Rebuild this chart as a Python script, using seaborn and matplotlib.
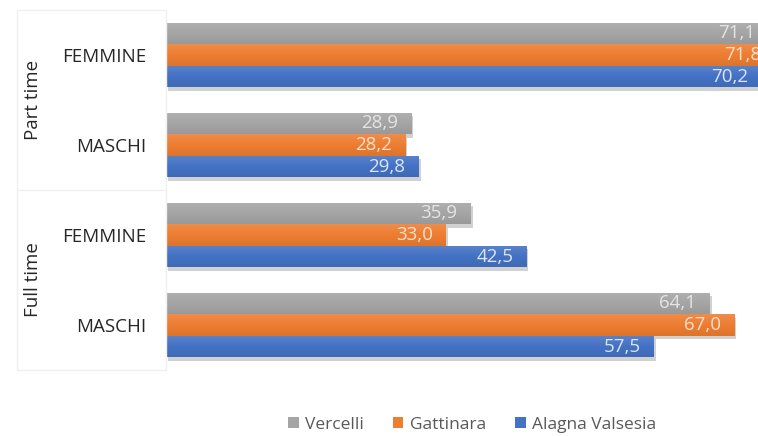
import numpy as np
import pandas as pd
import matplotlib
matplotlib.use("Agg")
import matplotlib.pyplot as plt
import matplotlib.patheffects as pe
from matplotlib.colors import LinearSegmentedColormap, to_rgb
import seaborn as sns

# data
gruppi = ["Part time", "Part time", "Full time", "Full time"]
sessi = ["FEMMINE", "MASCHI", "FEMMINE", "MASCHI"]
comuni = ["Vercelli", "Gattinara", "Alagna Valsesia"]
vercelli = [71.1, 28.9, 35.9, 64.1]
gattinara = [71.8, 28.2, 33.0, 67.0]
alagna = [70.2, 29.8, 42.5, 57.5]

colori = ["#A5A5A5", "#ED7D31", "#4472C4"]
colori_testo = ["#E4E4E4", "#FBE0CC", "#DCE5F5"]

righe = [f"{g}|{s}" for g, s in zip(gruppi, sessi)]
df = pd.DataFrame({
    "riga": righe * 3,
    "comune": np.repeat(comuni, len(righe)),
    "valore": vercelli + gattinara + alagna,
})

sns.set_theme(style="white")
plt.rcParams["font.family"] = ["Open Sans", "DejaVu Sans"]

fig = plt.figure(figsize=(7.58, 4.36), dpi=100)
ax = fig.add_axes([166 / 758, 1 - 370 / 436, 1 - 166 / 758, 360 / 436])

sns.barplot(data=df, y="riga", x="valore", hue="comune", hue_order=comuni,
            palette=colori, width=0.72, orient="h", ax=ax, saturation=1,
            linewidth=0)

xlim = (0, (758 - 166) / 8.48)
ylim = ax.get_ylim()


def sfumatura(c):
    r = np.array(to_rgb(c))
    alto = r + (1 - r) * 0.12
    basso = r * 0.93
    return LinearSegmentedColormap.from_list("g", [alto, r, basso])


grad = np.linspace(0, 1, 64).reshape(-1, 1)

# gradient fill, soft shadow and value labels
for cont, c, tc in zip(ax.containers, colori, colori_testo):
    cmap = sfumatura(c)
    for bar in cont:
        bar.set_path_effects([pe.SimplePatchShadow(offset=(1.5, -2.5), shadow_rgbFace="#000000", alpha=0.18), pe.Normal()])
        y0 = bar.get_y()
        y1 = y0 + bar.get_height()
        im = ax.imshow(grad, extent=(0, bar.get_width(), y1, y0), origin="upper",
                       aspect="auto", cmap=cmap, interpolation="bilinear",
                       zorder=bar.get_zorder() + 0.01)
        im.set_clip_path(bar)
        ax.annotate(f"{bar.get_width():.1f}".replace(".", ","),
                    xy=(bar.get_width(), y0 + bar.get_height() / 2),
                    xytext=(-9.5, 0), textcoords="offset points",
                    ha="right", va="center", fontsize=13.5, color=tc,
                    annotation_clip=False, zorder=5)

ax.set_xlim(*xlim)
ax.set_ylim(*ylim)
ax.set_xlabel("")
ax.set_ylabel("")
ax.set_xticks([])
ax.set_yticks(range(len(righe)))
ax.set_yticklabels(sessi, fontsize=13.5, color="#262626")
ax.tick_params(axis="y", length=0, pad=14)
for s in ax.spines.values():
    s.set_visible(False)

# box around the category labels
x0 = -(166 - 17) / (758 - 166)
linea = dict(color="#F0F0F0", lw=1, transform=ax.transAxes, clip_on=False)
for yy in (0, 0.5, 1):
    ax.plot([x0, 0], [yy, yy], **linea)
ax.plot([x0, x0], [0, 1], **linea)
ax.plot([0, 0], [0, 1], **linea)

xg = -(166 - 33) / (758 - 166)
for yy, g in ((0.75, "Part time"), (0.25, "Full time")):
    ax.text(xg, yy, g, rotation=90, ha="center", va="center",
            fontsize=13.5, color="#262626", transform=ax.transAxes)

sns.move_legend(ax, "center", bbox_to_anchor=(472 / 758, 1 - 425 / 436),
                bbox_transform=fig.transFigure, ncol=3, frameon=False,
                title=None, fontsize=12.5, handlelength=0.6, handleheight=0.6,
                handletextpad=0.35, columnspacing=1.7)
for t in ax.get_legend().get_texts():
    t.set_color("#595959")

fig.savefig("out.png", dpi=100)
